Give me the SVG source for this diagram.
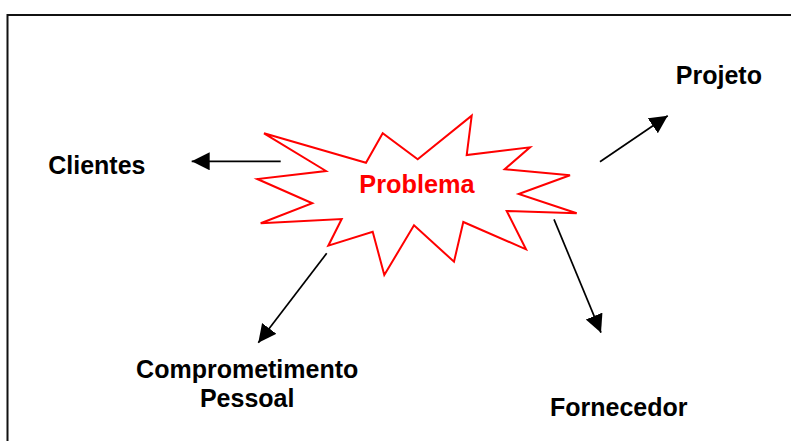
<svg xmlns="http://www.w3.org/2000/svg" width="791" height="441" viewBox="0 0 791 441">
<style>
.lbl{font-family:"Liberation Sans",Arial,sans-serif;font-weight:bold;font-size:25px;fill:#000}
.conn{stroke:#000;stroke-width:1.7;fill:none}
</style>
<defs>
<marker id="ah" markerUnits="userSpaceOnUse" markerWidth="20" markerHeight="20" refX="18" refY="9" orient="auto">
<path d="M0,0 L18,9 L0,18 z" fill="#000"/>
</marker>
</defs>
<rect width="791" height="441" fill="#fff"/>
<rect id="frame" x="7.5" y="15" width="800" height="440" fill="none" stroke="#111" stroke-width="2"/>
<g id="problema">
<polygon points="264,133.3 366,162.7 382.7,133.3 417.7,159.3 471.7,115.7 466.7,155 530,147.3 504.7,169.3 570,175.3 518.7,194 576.7,213.3 506.7,211 526,249.3 463.3,222 454,261.7 414,225.3 384.3,275 372.7,231.7 328.3,245.7 341.7,219 260.7,223.3 312.3,203.3 257.3,179 326,171" fill="#fff" stroke="#f00" stroke-width="2" stroke-linejoin="miter"/>
<text x="417" y="193.3" text-anchor="middle" class="lbl" style="fill:#f00;font-size:25.3px">Problema</text>
</g>
<g id="clientes"><text x="48.2" y="174.3" class="lbl">Clientes</text></g>
<g id="projeto"><text x="675.8" y="84.3" class="lbl">Projeto</text></g>
<g id="comprometimento"><text x="247.2" y="378.3" text-anchor="middle" class="lbl">Comprometimento</text><text x="247.2" y="406.7" text-anchor="middle" class="lbl">Pessoal</text></g>
<g id="fornecedor"><text x="550" y="416" class="lbl">Fornecedor</text></g>
<g id="connectors">
<line class="conn" x1="280.7" y1="161.3" x2="191.7" y2="161.3" marker-end="url(#ah)"/>
<line class="conn" x1="600" y1="161.7" x2="667.7" y2="115.7" marker-end="url(#ah)"/>
<line class="conn" x1="554" y1="219.3" x2="601" y2="332.7" marker-end="url(#ah)"/>
<line class="conn" x1="326.7" y1="253.3" x2="258.3" y2="342.7" marker-end="url(#ah)"/>
</g>
</svg>
